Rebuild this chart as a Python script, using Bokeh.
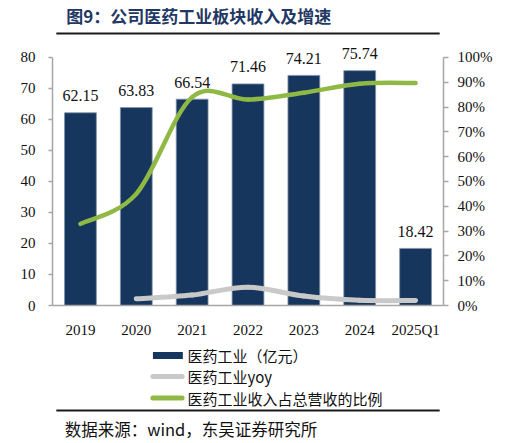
from bokeh.plotting import figure
from bokeh.layouts import column
from bokeh.models import (ColumnDataSource, FactorRange, Range1d, LinearAxis, FixedTicker,
                          PrintfTickFormatter, LabelSet)
from bokeh.core.properties import value
from bokeh.embed import file_html
from bokeh.resources import INLINE

# ---- data ----
categories = ["2019", "2020", "2021", "2022", "2023", "2024", "2025Q1"]
revenue = [62.15, 63.83, 66.54, 71.46, 74.21, 75.74, 18.42]          # 医药工业（亿元）
yoy_categories = ["2020", "2021", "2022", "2023", "2024", "2025Q1"]
yoy = [2.7, 4.2, 7.4, 3.8, 2.1, 2.0]                                  # 医药工业yoy (%)
share = [32.9, 45.0, 84.0, 83.0, 85.8, 89.4, 89.7]                    # 医药工业收入占总营收的比例 (%)
left_ticks = [0, 10, 20, 30, 40, 50, 60, 70, 80]
right_ticks = [0, 10, 20, 30, 40, 50, 60, 70, 80, 90, 100]

title_text = "图9：公司医药工业板块收入及增速"
legend_texts = ["医药工业（亿元）", "医药工业yoy", "医药工业收入占总营收的比例"]
source_text = "数据来源：wind，东吴证券研究所"

NAVY = "#17365D"
GRAY = "#C9C9C9"
GREEN = "#8FB944"
AXIS = "#A6A6A6"
SERIF = "Liberation Serif"
CJK = "Noto Sans CJK SC"

W = 510
HEAD_H = 36          # header strip (title + rule)
MAIN_TOP = HEAD_H    # image y where chart figure starts
MAIN_BOTTOM = 340    # image y where chart figure ends
FRAME_L, FRAME_R = 52, 443
Y80_PX, Y0_PX = 57, 306   # image y of left-axis 80 and 0

# ---------------- header ----------------
head = figure(width=W, height=HEAD_H, x_range=Range1d(0, W), y_range=Range1d(HEAD_H, 0),
              x_axis_type=None, y_axis_type=None, output_backend="svg", toolbar_location=None,
              min_border=0)
head.outline_line_color = None
head.grid.visible = False
head.text(x=[18], y=[15], text=[title_text], text_font=value(CJK), text_font_style="bold",
          text_font_size="17px", text_color="#1F3864", text_baseline="middle", text_align="left")
head.segment(x0=[5], y0=[33], x1=[505], y1=[33], line_color="#1a1a1a", line_width=2)

# ---------------- main chart ----------------
px_per_unit = (Y0_PX - Y80_PX) / 80.0
ytop = (Y0_PX - MAIN_TOP) / px_per_unit
p = figure(width=W, height=MAIN_BOTTOM - MAIN_TOP, x_range=FactorRange(factors=categories),
           y_range=Range1d(0, ytop), output_backend="svg", toolbar_location=None,
           min_border_left=FRAME_L, min_border_right=W - FRAME_R, min_border_top=0,
           min_border_bottom=MAIN_BOTTOM - Y0_PX)
p.extra_y_ranges = {"pct": Range1d(0, ytop * 100 / 80)}
p.outline_line_color = None
p.xgrid.grid_line_color = None
p.ygrid.grid_line_color = None

src = ColumnDataSource(dict(x=categories, y=revenue, lab=[f"{v:.2f}" for v in revenue]))
p.vbar(x="x", top="y", width=0.57, source=src, fill_color=NAVY, line_color="#8394AC", line_width=0.8)
p.add_layout(LabelSet(x="x", y="y", text="lab", source=src, text_align="center", text_baseline="middle",
                      y_offset=17, text_font=SERIF, text_font_size="16px", text_color="#111111"))


def smooth_segments(xs, ys):
    n = len(xs)
    d = dict(x0=[], y0=[], x1=[], y1=[], cx0=[], cy0=[], cx1=[], cy1=[])
    for i in range(n - 1):
        xm, ym = (xs[i - 1], ys[i - 1]) if i > 0 else (xs[i], ys[i])
        xp, yp = (xs[i + 2], ys[i + 2]) if i + 2 < n else (xs[i + 1], ys[i + 1])
        d["x0"].append(xs[i]); d["y0"].append(ys[i])
        d["x1"].append(xs[i + 1]); d["y1"].append(ys[i + 1])
        d["cx0"].append(xs[i] + (xs[i + 1] - xm) / 6); d["cy0"].append(ys[i] + (ys[i + 1] - ym) / 6)
        d["cx1"].append(xs[i + 1] - (xp - xs[i]) / 6); d["cy1"].append(ys[i + 1] - (yp - ys[i]) / 6)
    return ColumnDataSource(d)


pos = {c: i + 0.5 for i, c in enumerate(categories)}
p.bezier(x0="x0", y0="y0", x1="x1", y1="y1", cx0="cx0", cy0="cy0", cx1="cx1", cy1="cy1",
         source=smooth_segments([pos[c] for c in yoy_categories], yoy), y_range_name="pct",
         line_color=GRAY, line_width=5, line_cap="round")
p.bezier(x0="x0", y0="y0", x1="x1", y1="y1", cx0="cx0", cy0="cy0", cx1="cx1", cy1="cy1",
         source=smooth_segments([pos[c] for c in categories], share), y_range_name="pct",
         line_color=GREEN, line_width=4.5, line_cap="round")

xa = p.xaxis[0]
xa.axis_line_color = AXIS
xa.axis_line_width = 1.5
xa.major_tick_line_color = None
xa.minor_tick_line_color = None
xa.major_label_standoff = 10
xa.major_label_text_font = SERIF
xa.major_label_text_font_size = "15px"
xa.major_label_text_color = "#111111"

ya = p.yaxis[0]
ya.ticker = FixedTicker(ticks=left_ticks)
ya.bounds = (left_ticks[0], left_ticks[-1])
ya.axis_line_color = AXIS
ya.axis_line_width = 1.5
ya.major_tick_line_color = AXIS
ya.major_tick_line_width = 1.5
ya.major_tick_in = 0
ya.major_tick_out = 4
ya.minor_tick_line_color = None
ya.major_label_standoff = 13
ya.major_label_text_font = SERIF
ya.major_label_text_font_size = "15px"
ya.major_label_text_color = "#111111"

ra = LinearAxis(y_range_name="pct", ticker=FixedTicker(ticks=right_ticks),
                formatter=PrintfTickFormatter(format="%d%%"), bounds=(right_ticks[0], right_ticks[-1]))
ra.axis_line_color = AXIS
ra.axis_line_width = 1.5
ra.major_tick_line_color = AXIS
ra.major_tick_line_width = 1.5
ra.major_tick_in = 0
ra.major_tick_out = 5
ra.minor_tick_line_color = None
ra.major_label_standoff = 9
ra.major_label_text_font = SERIF
ra.major_label_text_font_size = "15px"
ra.major_label_text_color = "#111111"
p.add_layout(ra, "right")

# ---------------- footer (legend + source) ----------------
FOOT_H = 443 - MAIN_BOTTOM
foot = figure(width=W, height=FOOT_H, x_range=Range1d(0, W), y_range=Range1d(443, MAIN_BOTTOM),
              x_axis_type=None, y_axis_type=None, output_backend="svg", toolbar_location=None,
              min_border=0)
foot.outline_line_color = None
foot.grid.visible = False

leg_y = [355, 376, 397.5]
foot.quad(left=[131], right=[170], top=[leg_y[0] - 3.5], bottom=[leg_y[0] + 3.5],
          fill_color=NAVY, line_color=None)
foot.segment(x0=[131], y0=[leg_y[1]], x1=[169], y1=[leg_y[1]], line_color=GRAY, line_width=5,
             line_cap="round")
foot.segment(x0=[131], y0=[leg_y[2]], x1=[169], y1=[leg_y[2]], line_color=GREEN, line_width=5,
             line_cap="round")
foot.text(x=[176, 176, 176], y=leg_y, text=legend_texts, text_font=value(CJK), text_font_size="15px",
          text_color="#111111", text_baseline="middle", text_align="left")
foot.segment(x0=[5], y0=[410], x1=[505], y1=[410], line_color="#1a1a1a", line_width=2)
foot.text(x=[16], y=[428], text=[source_text], text_font=value(CJK), text_font_size="16.5px",
          text_color="#111111", text_baseline="middle", text_align="left")

layout = column(head, p, foot, spacing=0)
open("out.html", "w").write(file_html(layout, INLINE))
